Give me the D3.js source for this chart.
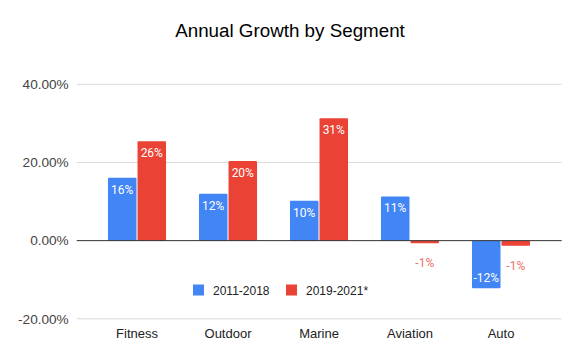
<!DOCTYPE html>
<html><head><meta charset="utf-8">
<script src="https://cdn.jsdelivr.net/npm/d3@7"></script>
<style>body{margin:0;background:#fff}svg{display:block}</style>
</head><body><div id="chart"></div>
<script>
const categories = ["Fitness", "Outdoor", "Marine", "Aviation", "Auto"];
const seriesNames = ["2011-2018", "2019-2021*"];
const series1 = [16.1, 12.0, 10.2, 11.3, -12.2];
const series2 = [25.4, 20.4, 31.3, -0.7, -1.3];
const labels1 = ["16%", "12%", "10%", "11%", "-12%"];
const labels2 = ["26%", "20%", "31%", "-1%", "-1%"];
const yTicks = [-20, 0, 20, 40];
const colors = ["#4285F4", "#EA4335"];

const W = 580, H = 359;
const AR = "Liberation Sans, Arial, sans-serif";
const svg = d3.select("#chart").append("svg").attr("width", W).attr("height", H);

const y = d3.scaleLinear().domain([-20, 40]).range([318.8, 84.3]);
const x = d3.scaleBand().domain(categories).range([91.5, 546.5]).paddingInner(0.362).paddingOuter(0.181);
const xs = d3.scaleBand().domain([0, 1]).range([0, x.bandwidth()]).paddingInner(0.035);
const gridL = 76.7, gridR = 561.7;

svg.append("text").attr("x", 290).attr("y", 37).attr("text-anchor", "middle")
  .attr("font-family", AR).attr("font-size", 18.8).attr("fill", "#000")
  .text("Annual Growth by Segment");

const yAxis = d3.axisLeft(y).tickValues(yTicks).tickSize(0).tickPadding(8)
  .tickFormat(d => d.toFixed(2) + "%");
const gy = svg.append("g").attr("transform", `translate(${gridL},0)`).call(yAxis);
gy.select(".domain").remove();
gy.selectAll("text").attr("font-family", AR).attr("font-size", 13.6).attr("fill", "#444");

svg.append("g").selectAll("line").data(yTicks.filter(d => d !== 0)).join("line")
  .attr("x1", gridL).attr("x2", gridR).attr("y1", d => y(d)).attr("y2", d => y(d))
  .attr("stroke", "#d9d9d9").attr("stroke-width", 1);

const data = categories.map((c, i) => ({c, vals: [series1[i], series2[i]], labs: [labels1[i], labels2[i]]}));
const groups = svg.append("g").selectAll("g").data(data).join("g")
  .attr("transform", d => `translate(${x(d.c)},0)`);
const bars = groups.selectAll("g").data(d => d.vals.map((v, k) => ({v, k, lab: d.labs[k]}))).join("g");
bars.append("rect")
  .attr("x", d => xs(d.k)).attr("width", xs.bandwidth())
  .attr("y", d => y(Math.max(0, d.v))).attr("height", d => Math.abs(y(d.v) - y(0)))
  .attr("fill", d => colors[d.k]).attr("rx", 1);
bars.append("text")
  .attr("x", d => xs(d.k) + xs.bandwidth() / 2)
  .attr("y", d => {
    const h = Math.abs(y(d.v) - y(0));
    if (d.v >= 0) return y(d.v) + 16;
    if (h > 20) return y(d.v) - 6;
    return y(d.v) + 24;
  })
  .attr("text-anchor", "middle").attr("font-family", "Roboto, sans-serif").attr("font-size", 12)
  .attr("fill", d => (d.v < 0 && Math.abs(y(d.v) - y(0)) <= 20) ? "#f07167" : "#fff")
  .text(d => d.lab);

svg.append("line").attr("x1", gridL).attr("x2", gridR).attr("y1", y(0)).attr("y2", y(0))
  .attr("stroke", "#333").attr("stroke-width", 1);

const xAxis = d3.axisBottom(x).tickSize(0).tickPadding(0);
const gx = svg.append("g").attr("transform", `translate(0,338)`).call(xAxis);
gx.select(".domain").remove();
gx.selectAll("text").attr("font-family", AR).attr("font-size", 13).attr("fill", "#222").attr("dy", "0");

const legX = [193, 286];
const leg = svg.append("g").selectAll("g").data(seriesNames).join("g")
  .attr("transform", (d, i) => `translate(${legX[i]},284.5)`);
leg.append("rect").attr("width", 11).attr("height", 11).attr("fill", (d, i) => colors[i]);
leg.append("text").attr("x", 20).attr("y", 10).attr("font-family", AR).attr("font-size", 12)
  .attr("fill", "#222").text(d => d);
</script></body></html>
